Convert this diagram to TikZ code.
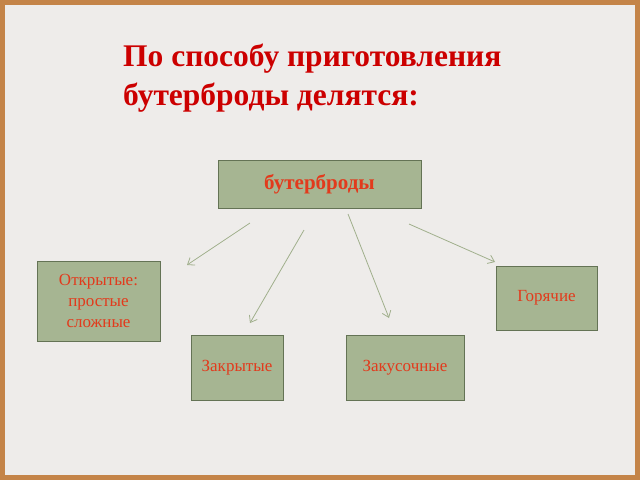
\documentclass[tikz,border=0pt]{standalone}
\usepackage{fontspec}
\setmainfont{Liberation Serif}
\usetikzlibrary{positioning}
\usetikzlibrary{arrows.meta}
\definecolor{frame1}{RGB}{196,132,72}
\definecolor{paper1}{RGB}{238,236,234}
\definecolor{fill1}{RGB}{166,181,146}
\definecolor{edge1}{RGB}{100,115,85}
\definecolor{red1}{RGB}{226,58,28}
\definecolor{title1}{RGB}{204,0,0}
\definecolor{arrow1}{RGB}{160,175,140}
\tikzstyle{kind}=	[draw=edge1, fill=fill1, line width=1pt, inner sep=0pt, align=center, text=red1, font=\fontsize{17}{21}\selectfont]
\tikzstyle{link}=	[draw=arrow1, line width=0.8pt, -{Straight Barb[length=6pt,width=9pt]}]
\begin{document}
\begin{tikzpicture}[x=1pt, y=-1pt]

	% frame and paper
	\fill[frame1] (0,0) rectangle (640,480);
	\fill[paper1] (5,5) rectangle (635,475);
	\useasboundingbox (0,0) rectangle (640,480);

	% title
	\node[anchor=north west, align=left, inner sep=0pt, text=title1, font=\bfseries\fontsize{31.5}{39}\selectfont] (title) at (123,44) {По способу приготовления\\бутерброды делятся:};

	% boxes
	\node[kind, minimum width=203pt, minimum height=48pt, font=\bfseries\fontsize{21}{25}\selectfont] (root) at (319.5,184) {бутерброды};
	\node[kind, minimum width=123pt, minimum height=80pt] (open) at (98.5,301) {Открытые:\\простые\\сложные};
	\node[kind, minimum width=101pt, minimum height=64pt] (hot) at (546.5,298) {Горячие};
	\node[kind, minimum width=92pt, minimum height=65pt] (closed) at (237,367.5) {Закрытые};
	\node[kind, minimum width=118pt, minimum height=65pt] (snack) at (405,367.5) {Закусочные};

	% arrows
	\coordinate (a1) at (250,223); \coordinate (b1) at (187,265);
	\coordinate (a2) at (304,230); \coordinate (b2) at (250,323);
	\coordinate (a3) at (348,214); \coordinate (b3) at (389,318);
	\coordinate (a4) at (409,224); \coordinate (b4) at (495,262);
	\draw[link] (a1) -- (b1);
	\draw[link] (a2) -- (b2);
	\draw[link] (a3) -- (b3);
	\draw[link] (a4) -- (b4);

\end{tikzpicture}
\end{document}
